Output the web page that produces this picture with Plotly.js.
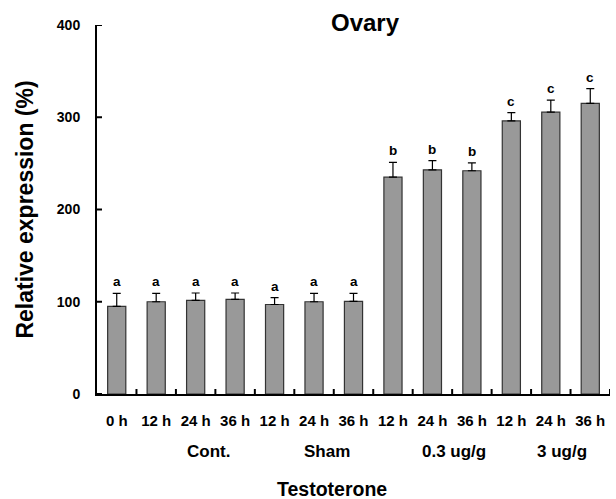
<!DOCTYPE html>
<html><head><meta charset="utf-8">
<script src="https://cdn.plot.ly/plotly-3.0.1.min.js"></script>
<style>html,body{margin:0;padding:0;background:#fff}</style>
</head><body><div id="chart" style="width:616px;height:499px"></div>
<script>
const timeLabels = ["0 h","12 h","24 h","36 h","12 h","24 h","36 h","12 h","24 h","36 h","12 h","24 h","36 h"];
const values = [95, 100, 101.5, 102.5, 97, 100, 100.5, 235, 243, 242, 296, 305.5, 315];
const errors = [14, 9, 8, 7, 7.5, 9, 8.5, 16, 10, 8.5, 9, 13, 16];
const letters = ["a","a","a","a","a","a","a","b","b","b","c","c","c"];
const groups = ["Cont.","Sham","0.3 ug/g","3 ug/g"];
const yTicks = [0, 100, 200, 300, 400];

const ids = timeLabels.map((_, i) => i);
const font = "Liberation Sans, Arial, sans-serif";

const trace = {
  type: "bar",
  x: ids,
  y: values,
  width: 0.46,
  marker: {color: "#999999", line: {color: "#333333", width: 1.2}},
  error_y: {type: "data", symmetric: false, array: errors, arrayminus: errors.map(() => 0),
            color: "#000", thickness: 1.2, width: 4},
  hoverinfo: "none"
};

const boundaries = ids.slice(1).map(v => v - 0.5).concat([ids.length - 0.5]);

// inside tick marks drawn as pixel-sized shapes anchored to axis values
const shapes = [];
boundaries.forEach(b => shapes.push({type: "line", layer: "above", xref: "x", x0: b, x1: b,
  yref: "y", ysizemode: "pixel", yanchor: 0, y0: 0, y1: 5, line: {color: "#000", width: 2}}));
yTicks.forEach(t => shapes.push({type: "line", layer: "above", yref: "y", y0: t, y1: t,
  xref: "x", xsizemode: "pixel", xanchor: -0.5, x0: 0, x1: 5, line: {color: "#000", width: 2}}));

const groupX = [2.32, 5.34, 8.55, 11.28];
const annotations = [];
letters.forEach((l, i) => {
  annotations.push({x: i, y: values[i] + errors[i], xref: "x", yref: "y", text: l,
    showarrow: false, yanchor: "bottom", yshift: 2,
    font: {family: font, size: 13.5, color: "#000", weight: "bold"}});
});
groups.forEach((g, i) => {
  annotations.push({x: groupX[i], y: 0, xref: "x", yref: "paper", text: g, showarrow: false,
    yanchor: "middle", yshift: -57, font: {family: font, size: 17, color: "#000", weight: "bold"}});
});
annotations.push({x: (332 - 97) / 513, xref: "paper", y: 0, yref: "paper", text: "Testoterone", showarrow: false,
  xanchor: "center", yanchor: "middle", yshift: -95, font: {family: font, size: 19.5, color: "#000", weight: "bold"}});

const layout = {
  width: 616, height: 499,
  margin: {l: 97, r: 6, t: 25, b: 105},
  paper_bgcolor: "#fff", plot_bgcolor: "#fff",
  showlegend: false,
  title: {text: "Ovary", x: 365/616, xanchor: "center", y: 1 - 23/499, yanchor: "middle",
          font: {family: font, size: 24, color: "#000", weight: "bold"}},
  xaxis: {
    type: "linear", range: [-0.5, 12.5], tickmode: "array", tickvals: ids, ticktext: timeLabels,
    tickangle: 0,
    showgrid: false, zeroline: false, showline: true, linecolor: "#000", linewidth: 2,
    ticks: "",
    tickfont: {family: font, size: 15, color: "#000", weight: "bold"}, ticklabelstandoff: 12
  },
  yaxis: {
    range: [0, 400], tickmode: "array", tickvals: yTicks, showgrid: false, zeroline: false,
    showline: true, linecolor: "#000", linewidth: 2,
    ticks: "",
    tickfont: {family: font, size: 14, color: "#000", weight: "bold"}, ticklabelstandoff: 12,
    title: {text: "Relative expression (%)", standoff: 17, font: {family: font, size: 23, color: "#000", weight: "bold"}}
  },
  shapes: shapes,
  annotations: annotations
};

Plotly.newPlot("chart", [trace], layout, {displayModeBar: false, staticPlot: true});
</script></body></html>
